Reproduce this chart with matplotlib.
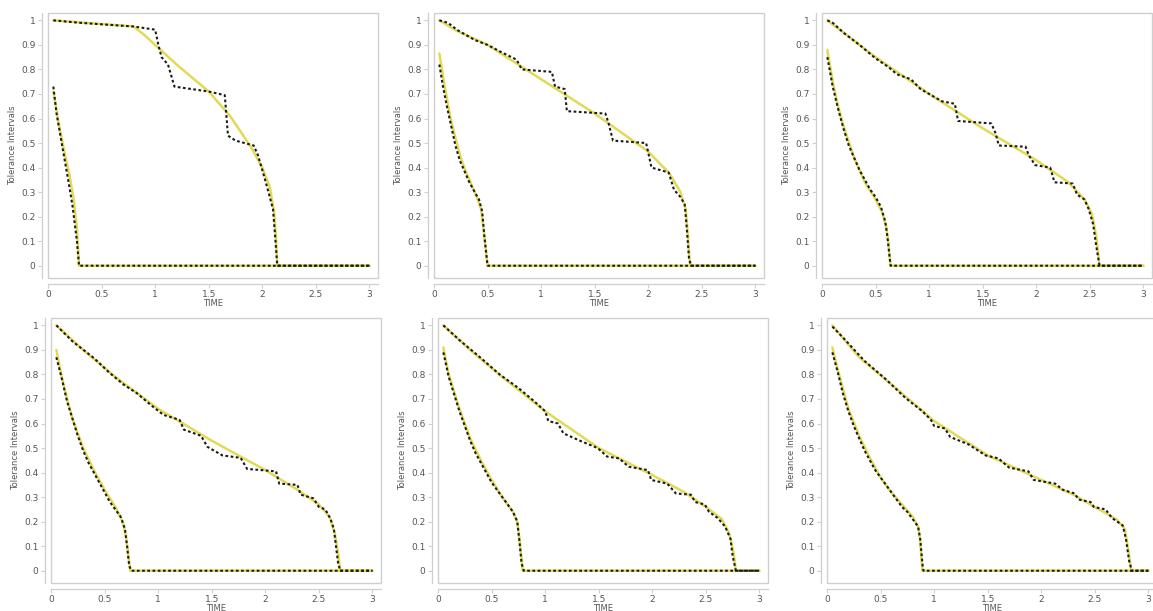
import matplotlib.pyplot as plt
from matplotlib.patches import Rectangle

# ---- data, (TIME, value) pairs ----
# top left
tl_low_fit = [(0.05, 0.71), (0.10, 0.58), (0.15, 0.47), (0.20, 0.37), (0.24, 0.27), (0.27, 0.15), (0.29, 0.0), (3.0, 0.0)]
tl_low_emp = [(0.05, 0.73), (0.08, 0.62), (0.12, 0.52), (0.16, 0.42), (0.20, 0.32), (0.23, 0.24), (0.27, 0.10), (0.29, 0.0), (3.0, 0.0)]
tl_up_fit = [(0.05, 1.0), (0.80, 0.975), (0.9, 0.94), (1.0, 0.90), (1.2, 0.82), (1.35, 0.765), (1.5, 0.71), (1.7, 0.61),
             (1.9, 0.48), (2.0, 0.40), (2.07, 0.32), (2.11, 0.22), (2.13, 0.10), (2.14, 0.0), (3.0, 0.0)]
tl_up_emp = [(0.05, 1.0), (0.3, 0.99), (0.8, 0.975), (1.0, 0.962), (1.03, 0.90), (1.06, 0.85), (1.12, 0.82), (1.18, 0.73),
             (1.5, 0.71), (1.65, 0.695), (1.68, 0.53), (1.75, 0.51), (1.92, 0.49), (1.96, 0.45), (2.02, 0.36), (2.07, 0.28),
             (2.10, 0.23), (2.12, 0.12), (2.14, 0.0), (3.0, 0.0)]

# top middle
tm_low_fit = [(0.05, 0.865), (0.10, 0.73), (0.15, 0.61), (0.20, 0.52), (0.25, 0.44), (0.30, 0.38), (0.35, 0.33), (0.40, 0.28),
              (0.44, 0.23), (0.47, 0.12), (0.50, 0.0), (3.0, 0.0)]
tm_low_emp = [(0.05, 0.82), (0.08, 0.74), (0.12, 0.65), (0.16, 0.57), (0.20, 0.49), (0.24, 0.43), (0.28, 0.39), (0.33, 0.34),
              (0.38, 0.30), (0.42, 0.27), (0.45, 0.22), (0.47, 0.12), (0.50, 0.0), (3.0, 0.0)]
tm_up_fit = [(0.05, 1.0), (0.2, 0.96), (0.5, 0.90), (1.0, 0.76), (1.5, 0.62), (2.0, 0.465), (2.2, 0.375), (2.3, 0.30),
             (2.35, 0.23), (2.37, 0.12), (2.39, 0.0), (3.0, 0.0)]
tm_up_emp = [(0.05, 1.0), (0.13, 0.99), (0.22, 0.96), (0.38, 0.92), (0.50, 0.90), (0.63, 0.87), (0.77, 0.84), (0.82, 0.80),
             (1.10, 0.79), (1.13, 0.73), (1.22, 0.72), (1.24, 0.63), (1.60, 0.62), (1.63, 0.58), (1.67, 0.51), (1.98, 0.50),
             (2.03, 0.40), (2.19, 0.38), (2.24, 0.31), (2.30, 0.28), (2.34, 0.25), (2.36, 0.15), (2.38, 0.03), (2.40, 0.0),
             (3.0, 0.0)]

# top right
tr_low_fit = [(0.05, 0.88), (0.10, 0.75), (0.15, 0.65), (0.20, 0.57), (0.30, 0.44), (0.40, 0.34), (0.50, 0.27), (0.56, 0.22),
              (0.60, 0.16), (0.62, 0.09), (0.64, 0.0), (3.0, 0.0)]
tr_low_emp = [(0.05, 0.85), (0.10, 0.73), (0.15, 0.64), (0.20, 0.56), (0.25, 0.49), (0.30, 0.44), (0.35, 0.39), (0.40, 0.35),
              (0.45, 0.31), (0.50, 0.28), (0.55, 0.24), (0.59, 0.18), (0.61, 0.12), (0.64, 0.0), (3.0, 0.0)]
tr_up_fit = [(0.05, 1.0), (0.2, 0.95), (0.5, 0.85), (1.0, 0.70), (1.5, 0.56), (2.0, 0.43), (2.3, 0.34), (2.45, 0.27),
             (2.52, 0.21), (2.56, 0.12), (2.59, 0.0), (3.0, 0.0)]
tr_up_emp = [(0.05, 1.0), (0.10, 0.99), (0.20, 0.95), (0.35, 0.90), (0.50, 0.845), (0.62, 0.81), (0.70, 0.78), (0.83, 0.76),
             (0.92, 0.72), (1.04, 0.69), (1.12, 0.67), (1.24, 0.66), (1.27, 0.59), (1.58, 0.58), (1.62, 0.54), (1.65, 0.49),
             (1.90, 0.485), (1.93, 0.45), (1.99, 0.41), (2.13, 0.40), (2.17, 0.34), (2.34, 0.335), (2.38, 0.29), (2.45, 0.27),
             (2.49, 0.23), (2.53, 0.17), (2.56, 0.08), (2.59, 0.0), (3.0, 0.0)]

# bottom left
bl_low_fit = [(0.05, 0.90), (0.10, 0.79), (0.15, 0.70), (0.20, 0.62), (0.30, 0.50), (0.40, 0.41), (0.50, 0.33), (0.60, 0.26),
              (0.67, 0.20), (0.70, 0.14), (0.72, 0.07), (0.74, 0.0), (3.0, 0.0)]
bl_low_emp = [(0.05, 0.87), (0.10, 0.785), (0.15, 0.69), (0.20, 0.62), (0.25, 0.55), (0.30, 0.49), (0.35, 0.44), (0.40, 0.40),
              (0.45, 0.36), (0.50, 0.32), (0.55, 0.28), (0.60, 0.25), (0.65, 0.22), (0.69, 0.17), (0.71, 0.10), (0.73, 0.02),
              (0.75, 0.0), (3.0, 0.0)]
bl_up_fit = [(0.05, 1.0), (0.3, 0.90), (0.6, 0.79), (1.0, 0.66), (1.5, 0.53), (2.0, 0.41), (2.3, 0.33), (2.5, 0.27),
             (2.6, 0.22), (2.65, 0.15), (2.68, 0.07), (2.70, 0.0), (3.0, 0.0)]
bl_up_emp = [(0.05, 1.0), (0.20, 0.935), (0.40, 0.867), (0.55, 0.805), (0.68, 0.758), (0.80, 0.724), (0.93, 0.676),
             (1.05, 0.635), (1.20, 0.615), (1.24, 0.575), (1.40, 0.55), (1.46, 0.505), (1.60, 0.47), (1.77, 0.46),
             (1.83, 0.415), (2.10, 0.405), (2.13, 0.355), (2.30, 0.35), (2.33, 0.31), (2.45, 0.295), (2.50, 0.26),
             (2.56, 0.25), (2.61, 0.21), (2.64, 0.17), (2.66, 0.10), (2.68, 0.03), (2.70, 0.0), (3.0, 0.0)]

# bottom middle
bm_low_fit = [(0.05, 0.91), (0.10, 0.80), (0.20, 0.66), (0.30, 0.54), (0.40, 0.45), (0.50, 0.37), (0.60, 0.30), (0.70, 0.24),
              (0.74, 0.20), (0.76, 0.13), (0.78, 0.05), (0.79, 0.0), (3.0, 0.0)]
bm_low_emp = [(0.05, 0.89), (0.10, 0.79), (0.15, 0.72), (0.20, 0.65), (0.25, 0.59), (0.30, 0.53), (0.35, 0.48), (0.40, 0.44),
              (0.45, 0.40), (0.50, 0.36), (0.55, 0.33), (0.60, 0.30), (0.65, 0.27), (0.70, 0.24), (0.74, 0.20), (0.76, 0.12),
              (0.78, 0.03), (0.80, 0.0), (3.0, 0.0)]
bm_up_fit = [(0.05, 1.0), (0.3, 0.90), (0.6, 0.79), (1.0, 0.65), (1.5, 0.50), (2.0, 0.39), (2.3, 0.32), (2.5, 0.26),
             (2.65, 0.21), (2.72, 0.15), (2.76, 0.07), (2.78, 0.0), (3.0, 0.0)]
bm_up_emp = [(0.05, 1.0), (0.20, 0.94), (0.40, 0.867), (0.575, 0.80), (0.75, 0.745), (0.90, 0.69), (1.00, 0.65),
             (1.03, 0.61), (1.12, 0.60), (1.17, 0.56), (1.34, 0.527), (1.49, 0.50), (1.58, 0.465), (1.69, 0.458),
             (1.78, 0.424), (1.96, 0.41), (1.99, 0.37), (2.14, 0.355), (2.22, 0.315), (2.36, 0.31), (2.40, 0.28),
             (2.49, 0.27), (2.53, 0.24), (2.61, 0.215), (2.68, 0.18), (2.73, 0.13), (2.75, 0.06), (2.78, 0.0), (3.0, 0.0)]

# bottom right
br_low_fit = [(0.05, 0.91), (0.10, 0.82), (0.20, 0.66), (0.30, 0.55), (0.40, 0.46), (0.50, 0.38), (0.60, 0.32), (0.70, 0.27),
              (0.80, 0.22), (0.85, 0.18), (0.87, 0.12), (0.89, 0.0), (3.0, 0.0)]
br_low_emp = [(0.05, 0.89), (0.10, 0.81), (0.15, 0.72), (0.20, 0.65), (0.25, 0.59), (0.30, 0.54), (0.35, 0.49), (0.40, 0.45),
              (0.45, 0.41), (0.50, 0.38), (0.55, 0.35), (0.60, 0.32), (0.65, 0.29), (0.70, 0.26), (0.75, 0.24), (0.80, 0.21),
              (0.85, 0.18), (0.87, 0.13), (0.89, 0.03), (0.90, 0.0), (3.0, 0.0)]
br_up_fit = [(0.05, 1.0), (0.3, 0.87), (0.6, 0.76), (1.0, 0.61), (1.5, 0.47), (2.0, 0.37), (2.3, 0.31), (2.5, 0.26),
             (2.7, 0.21), (2.78, 0.17), (2.81, 0.09), (2.84, 0.0), (3.0, 0.0)]
br_up_emp = [(0.05, 0.995), (0.15, 0.95), (0.35, 0.855), (0.55, 0.78), (0.73, 0.705), (0.89, 0.65), (0.97, 0.615),
             (1.00, 0.59), (1.10, 0.58), (1.15, 0.545), (1.32, 0.515), (1.48, 0.47), (1.60, 0.458), (1.70, 0.42),
             (1.88, 0.405), (1.93, 0.37), (2.13, 0.355), (2.20, 0.33), (2.31, 0.315), (2.35, 0.29), (2.46, 0.28),
             (2.49, 0.26), (2.60, 0.25), (2.66, 0.215), (2.76, 0.185), (2.79, 0.13), (2.82, 0.04), (2.845, 0.0), (3.0, 0.0)]

x_ticks = [0, 0.5, 1, 1.5, 2, 2.5, 3]
x_tick_labels = ["0", "0.5", "1", "1.5", "2", "2.5", "3"]
y_ticks = [0, 0.1, 0.2, 0.3, 0.4, 0.5, 0.6, 0.7, 0.8, 0.9, 1]
y_tick_labels = ["0", "0.1", "0.2", "0.3", "0.4", "0.5", "0.6", "0.7", "0.8", "0.9", "1"]

panels = [
    (tl_low_fit, tl_low_emp, tl_up_fit, tl_up_emp),
    (tm_low_fit, tm_low_emp, tm_up_fit, tm_up_emp),
    (tr_low_fit, tr_low_emp, tr_up_fit, tr_up_emp),
    (bl_low_fit, bl_low_emp, bl_up_fit, bl_up_emp),
    (bm_low_fit, bm_low_emp, bm_up_fit, bm_up_emp),
    (br_low_fit, br_low_emp, br_up_fit, br_up_emp),
]

W, H = 1153, 611
# left edge of each frame in pixels, plus the top of each row
lefts = [48, 434, 822, 51, 438, 827]
tops = [13, 13, 13, 318, 318, 318]
frame_w, frame_h = 330, 265

GRID = "#cfcfcf"
TXT = "#555555"
YELLOW = "#e2da55"


def draw_curve(ax, pts, fit):
    xs = [p[0] for p in pts]
    ys = [p[1] for p in pts]
    if fit:
        ax.plot(xs, ys, color=YELLOW, lw=1.8, solid_capstyle="round", solid_joinstyle="round", zorder=2)
    else:
        ax.plot(xs, ys, color="#1a1a1a", lw=1.5, linestyle=(0, (1.3, 1.2)), zorder=3)


fig = plt.figure(figsize=(W / 100, H / 100), dpi=100)

for i, (low_fit, low_emp, up_fit, up_emp) in enumerate(panels):
    left = lefts[i] / W
    bottom = (H - tops[i] - frame_h) / H
    ax = fig.add_axes([left, bottom, frame_w / W, frame_h / H])

    for pts, fit in [(low_fit, True), (up_fit, True), (low_emp, False), (up_emp, False)]:
        draw_curve(ax, pts, fit)

    ax.set_xlim(0, 3.08)
    ax.set_ylim(-0.05, 1.03)

    # JMP-like look: light frame, axis lines pulled a little away from it
    for side in ["top", "right"]:
        ax.spines[side].set_visible(False)
    for side in ["left", "bottom"]:
        ax.spines[side].set_position(("outward", 4))
        ax.spines[side].set_color(GRID)
        ax.spines[side].set_linewidth(0.9)
    ax.add_patch(Rectangle((0, 0), 1, 1, transform=ax.transAxes, fill=False,
                           edgecolor=GRID, lw=1.0, clip_on=False, zorder=5))

    ax.set_xticks(x_ticks)
    ax.set_xticklabels(x_tick_labels)
    ax.set_yticks(y_ticks)
    ax.set_yticklabels(y_tick_labels)
    ax.tick_params(axis="both", colors=GRID, labelcolor=TXT, labelsize=6.5, length=3, width=0.8)
    ax.tick_params(axis="x", pad=1.5)
    ax.tick_params(axis="y", pad=2)

    ax.set_xlabel("TIME", fontsize=6, color=TXT, labelpad=0)
    ax.set_ylabel("Tolerance Intervals", fontsize=6, color=TXT, labelpad=3)

fig.savefig("out.png", dpi=100)
